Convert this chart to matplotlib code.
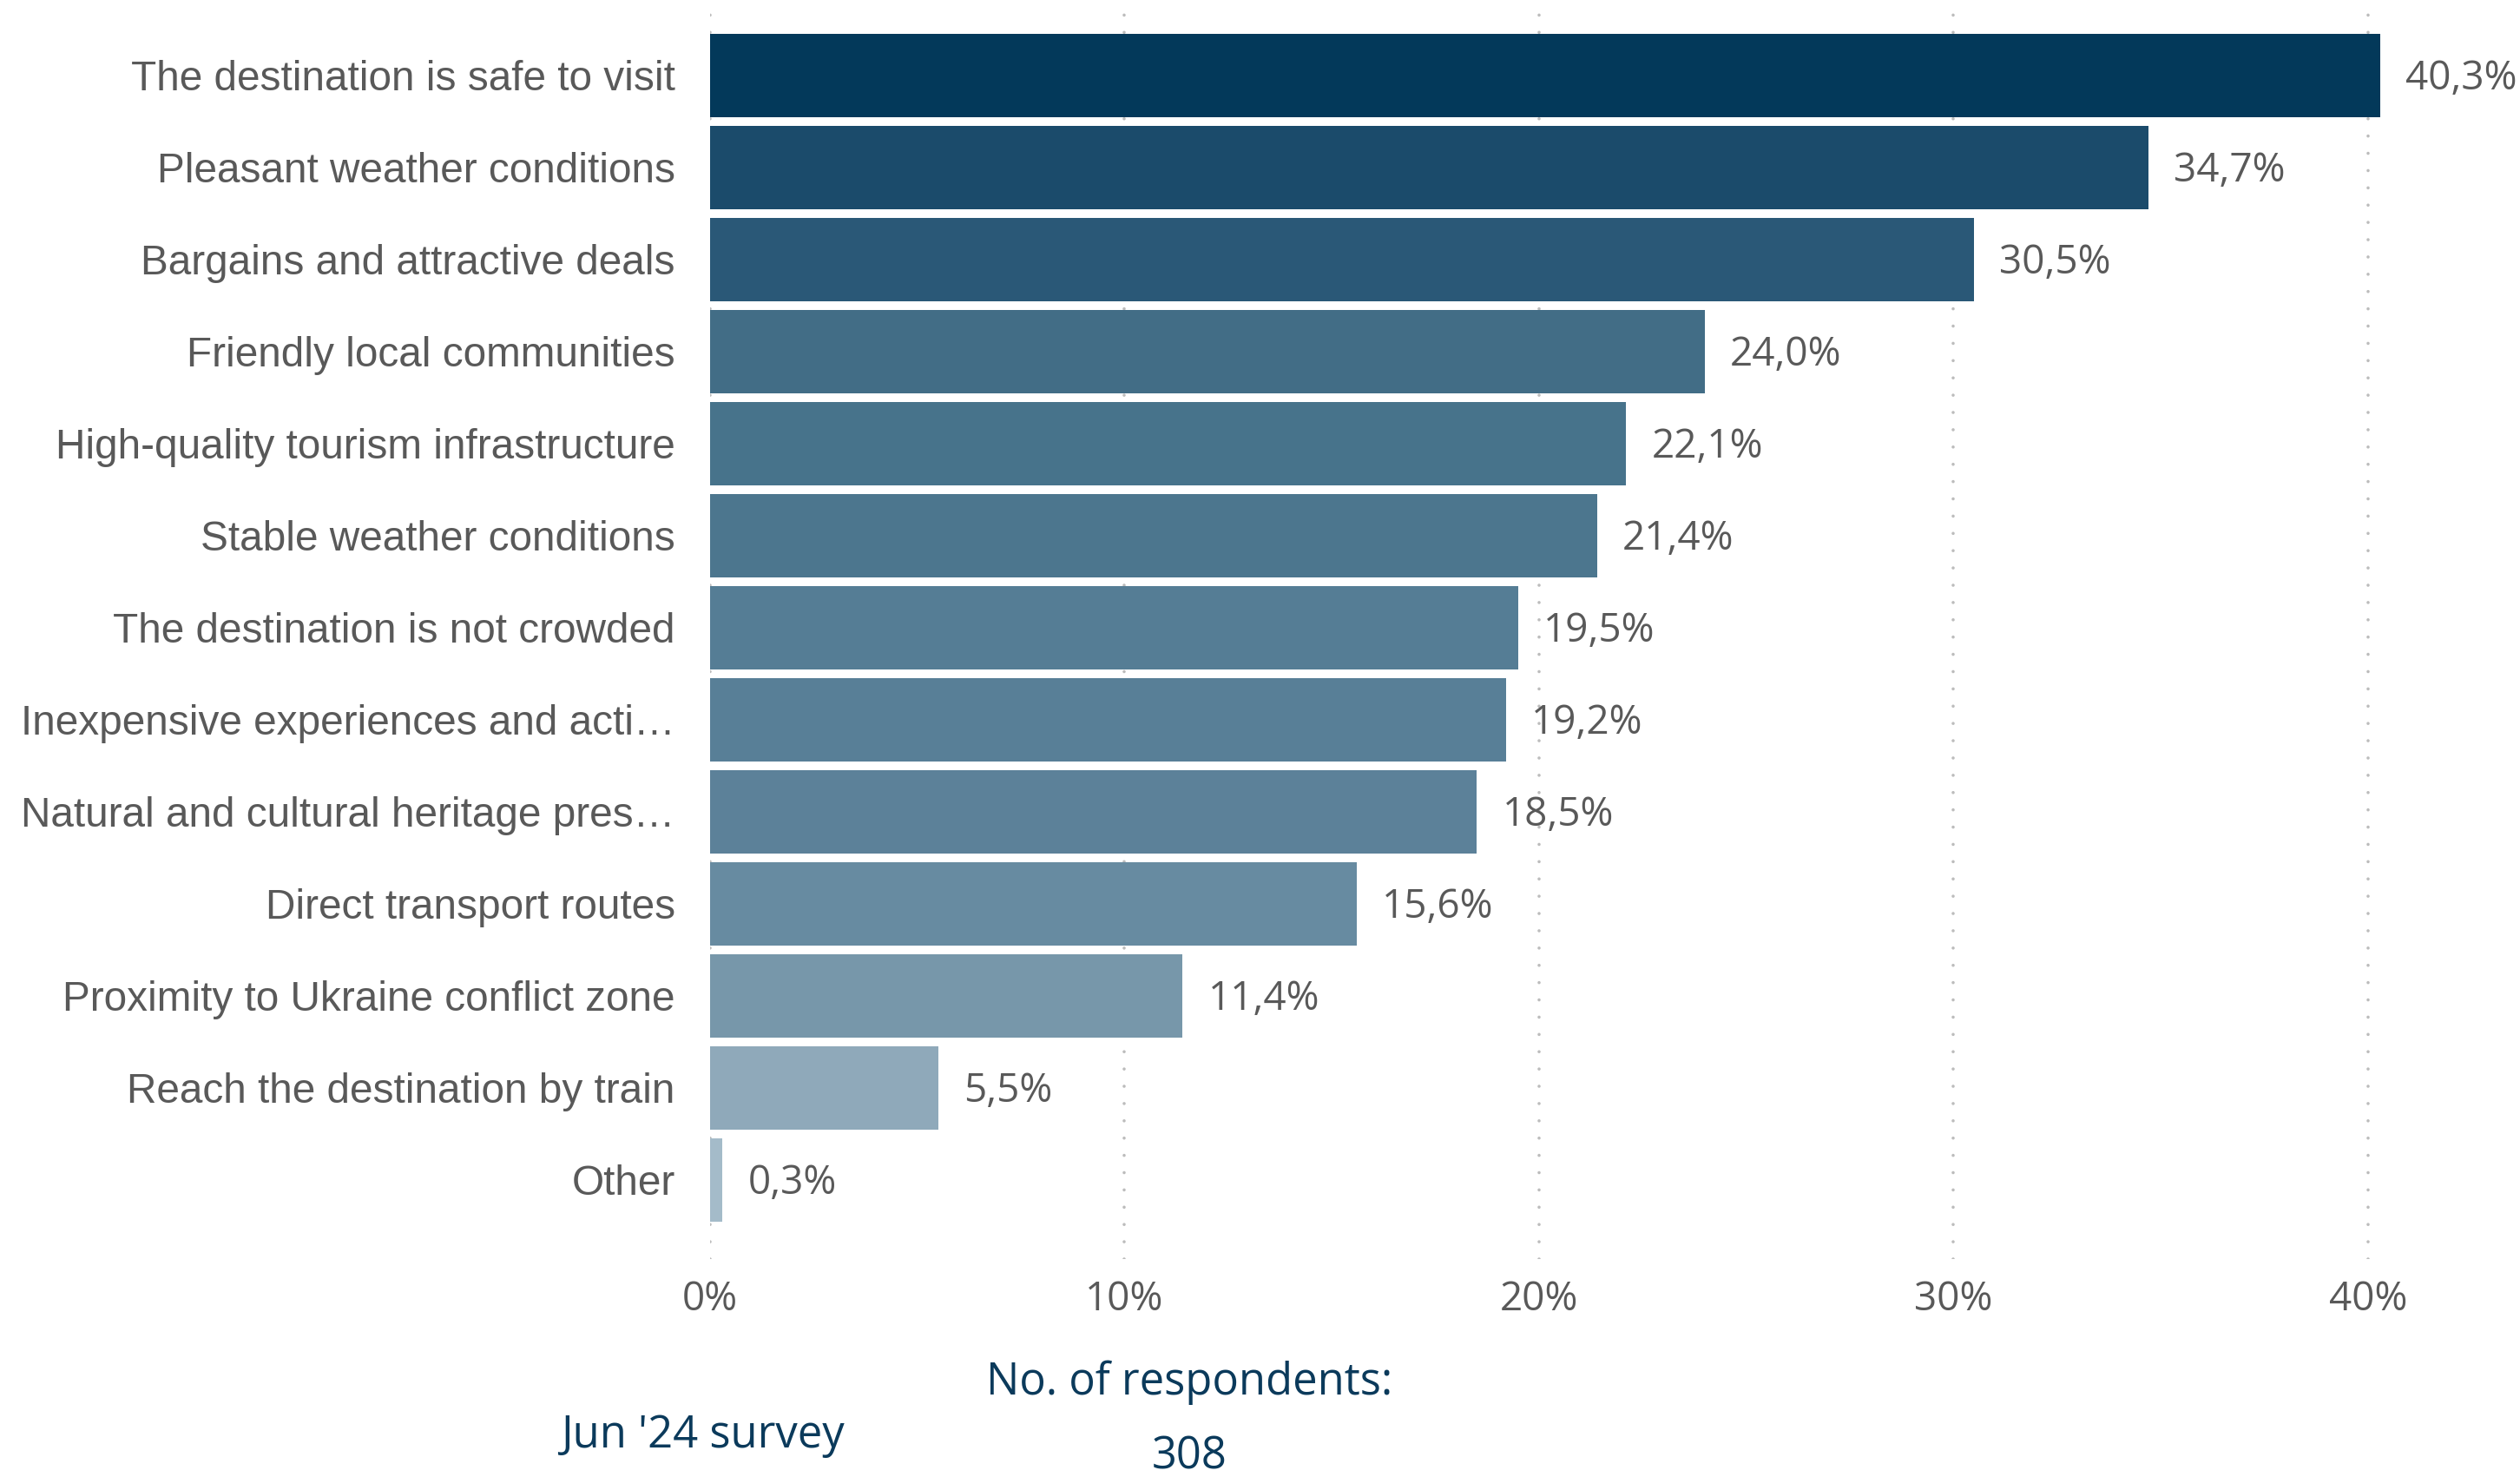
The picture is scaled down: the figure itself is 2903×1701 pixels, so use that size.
import matplotlib

matplotlib.use("Agg")

import matplotlib.pyplot as plt
from matplotlib.ticker import FuncFormatter

# Survey answers, top to bottom
categories = [
    "The destination is safe to visit",
    "Pleasant weather conditions",
    "Bargains and attractive deals",
    "Friendly local communities",
    "High-quality tourism infrastructure",
    "Stable weather conditions",
    "The destination is not crowded",
    "Inexpensive experiences and acti…",
    "Natural and cultural heritage pres…",
    "Direct transport routes",
    "Proximity to Ukraine conflict zone",
    "Reach the destination by train",
    "Other",
]
shares = [40.3, 34.7, 30.5, 24.0, 22.1, 21.4, 19.5, 19.2, 18.5, 15.6, 11.4, 5.5, 0.3]
bar_colors = [
    "#03395a", "#1b4b6b", "#2a5877", "#426d86", "#47738b", "#4c768e", "#557d95",
    "#587f97", "#5c8199", "#678ba1", "#7797aa", "#8fa9ba", "#a4bbc9",
]
x_ticks = [0, 10, 20, 30, 40]
respondents = 308
survey_label = "Jun '24 survey"

LABEL_GREY = "#595959"
NAVY = "#0b3a5b"

W, H, DPI = 2903, 1701, 100
fig = plt.figure(figsize=(W / DPI, H / DPI), dpi=DPI)
ax = fig.add_axes([818 / W, 1 - 1450 / H, 2053 / W, 1450 / H])

y = list(range(len(categories)))
ax.barh(y, shares, height=0.9, color=bar_colors, zorder=2)

for yi, v in zip(y, shares):
    ax.annotate(
        f"{v:.1f}%".replace(".", ","),
        (v, yi),
        xytext=(21, -3),
        textcoords="offset points",
        ha="left",
        va="center",
        fontsize=33,
        family="Open Sans",
        color=LABEL_GREY,
        annotation_clip=False,
    )

ax.set_xlim(0, 43)
ax.set_ylim(len(categories) - 1 + 0.86, -0.82)
ax.set_yticks(y)
ax.set_yticklabels(categories, fontsize=34.4, family="Liberation Sans", color=LABEL_GREY)
ax.set_xticks(x_ticks)
ax.xaxis.set_major_formatter(FuncFormatter(lambda v, _: f"{v:.0f}%"))
for lab in ax.get_xticklabels():
    lab.set_fontsize(33)
    lab.set_family("Open Sans")
    lab.set_color(LABEL_GREY)
ax.tick_params(axis="y", length=0, pad=29)
ax.tick_params(axis="x", length=0, pad=17)

for s in ax.spines.values():
    s.set_visible(False)

ax.set_axisbelow(True)
ax.grid(
    axis="x",
    color="#bcbcbc",
    linewidth=2.6,
    linestyle=(0, (0.01, 5.5)),
    dash_capstyle="round",
    zorder=0,
)
ax.grid(axis="y", visible=False)

fig.text(1370 / W, 1 - 1592 / H, "No. of respondents:", ha="center", va="center",
         fontsize=36.5, family="Open Sans", color=NAVY)
fig.text(1370 / W, 1 - 1678 / H, str(respondents), ha="center", va="center",
         fontsize=36.5, family="Open Sans", color=NAVY)
fig.text(809 / W, 1 - 1653 / H, survey_label, ha="center", va="center",
         fontsize=36.5, family="Open Sans", color=NAVY)

fig.savefig("out.png", dpi=DPI)
